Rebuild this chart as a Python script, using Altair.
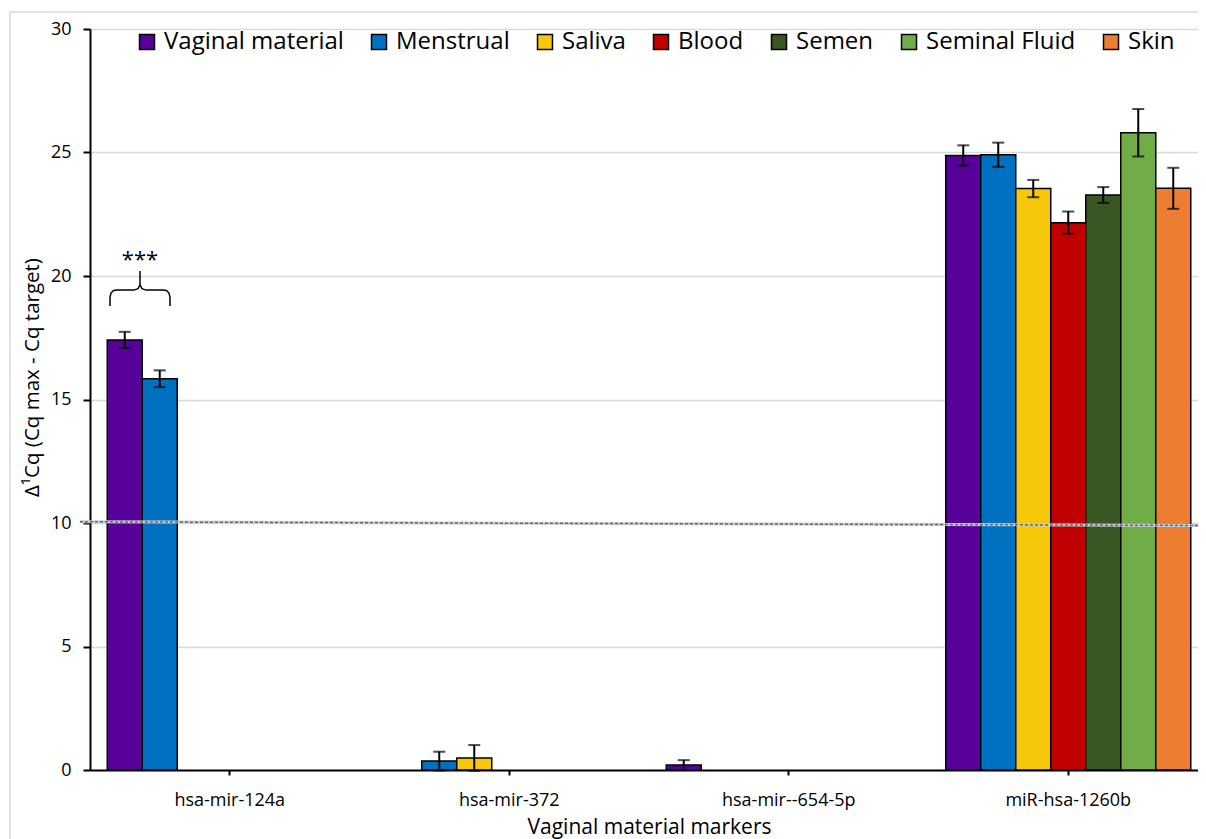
import altair as alt
import pandas as pd

# ---------------- data ----------------
categories = ["hsa-mir-124a", "hsa-mir-372", "hsa-mir--654-5p", "miR-hsa-1260b"]
series = ["Vaginal material", "Menstrual", "Saliva", "Blood", "Semen", "Seminal Fluid", "Skin"]
colors = ["#58009A", "#0070C0", "#F7C709", "#C00000", "#385723", "#70AD47", "#ED7D31"]

vaginal_mean = [17.41, 0.0, 0.20, 24.88]
vaginal_err = [0.33, 0.0, 0.20, 0.41]
menstrual_mean = [15.84, 0.36, 0.0, 24.91]
menstrual_err = [0.34, 0.38, 0.0, 0.49]
saliva_mean = [0.0, 0.49, 0.0, 23.54]
saliva_err = [0.0, 0.52, 0.0, 0.35]
blood_mean = [0.0, 0.0, 0.0, 22.16]
blood_err = [0.0, 0.0, 0.0, 0.45]
semen_mean = [0.0, 0.0, 0.0, 23.28]
semen_err = [0.0, 0.0, 0.0, 0.32]
seminal_mean = [0.0, 0.0, 0.0, 25.80]
seminal_err = [0.0, 0.0, 0.0, 0.96]
skin_mean = [0.0, 0.0, 0.0, 23.55]
skin_err = [0.0, 0.0, 0.0, 0.83]

# threshold line (in category units on x, data units on y)
threshold_x = [-0.036, 4.0]
threshold_y = [10.05, 9.90]

# significance bracket over hsa-mir-124a (category units / data units)
bracket_x = [0.0716, 0.0716, 0.0751, 0.0841, 0.0966, 0.1574, 0.1717, 0.1789, 0.1789,
             0.1789, 0.1860, 0.2004, 0.2612, 0.2737, 0.2826, 0.2862, 0.2862]
bracket_y = [18.79, 19.15, 19.31, 19.41, 19.43, 19.43, 19.49, 19.64, 20.20,
             19.64, 19.49, 19.43, 19.43, 19.41, 19.31, 19.15, 18.79]
stars_text = ["***"]
stars_x = [0.179]
stars_y = [20.36]

y_title = "Δ¹Cq (Cq max - Cq target)"
x_title = "Vaginal material markers"

# ---------------- tables ----------------
means = dict(zip(series, [vaginal_mean, menstrual_mean, saliva_mean, blood_mean,
                          semen_mean, seminal_mean, skin_mean]))
errs = dict(zip(series, [vaginal_err, menstrual_err, saliva_err, blood_err,
                         semen_err, seminal_err, skin_err]))

rows, caps = [], []
for s in series:
    for c, m, e in zip(categories, means[s], errs[s]):
        if m > 0:
            rows.append({"marker": c, "sample": s, "mean": m, "lo": m - e, "hi": m + e})
            if e > 0:
                caps.append({"marker": c, "sample": s, "v": m - e})
                caps.append({"marker": c, "sample": s, "v": m + e})
df = pd.DataFrame(rows)
df_caps = pd.DataFrame(caps)
df_thr = pd.DataFrame({"x": [threshold_x[0]], "x2": [threshold_x[1]],
                       "y": [threshold_y[0]], "y2": [threshold_y[1]]})
df_br = pd.DataFrame({"i": list(range(len(bracket_x))), "bx": bracket_x, "by": bracket_y})
df_st = pd.DataFrame({"t": stars_text, "sx": stars_x, "sy": stars_y})

FONT = "Open Sans"
RANGE_W = 1118

xscale = alt.Scale(domain=categories, range=[0, RANGE_W], paddingInner=0.1234, paddingOuter=0.0617)
xoff = alt.XOffset("sample:N", scale=alt.Scale(domain=series, paddingInner=0, paddingOuter=0))
yscale = alt.Scale(domain=[0, 30], nice=False)

xaxis = alt.Axis(title=x_title, labelAngle=0, labelFontSize=18, labelColor="black",
                 labelBaseline="alphabetic", labelPadding=30, tickSize=5, tickWidth=2,
                 tickColor="black", domainColor="black", domainWidth=2, grid=False,
                 titleFontSize=21, titleFontWeight="normal", titleColor="black",
                 titleBaseline="alphabetic", titleY=63)
yaxis = alt.Axis(title=y_title, values=[0, 5, 10, 15, 20, 25, 30], labelFontSize=18,
                 labelColor="black", labelPadding=12, tickSize=7, tickWidth=2, tickColor="black",
                 domainColor="black", domainWidth=2, grid=True, gridColor="#d9d9d9", gridWidth=1.5,
                 titleFontSize=20.5, titleFontWeight="normal", titleColor="black",
                 titleAngle=270, titleX=-58, titleY=348, titleAlign="center", titleBaseline="middle")

legend = alt.Legend(title=None, orient="none", legendX=45, legendY=1, direction="horizontal",
                    columns=7, columnPadding=23, symbolType="square", symbolSize=225,
                    symbolStrokeColor="black", symbolStrokeWidth=1.5, labelFontSize=24,
                    labelColor="black", labelOffset=5, labelFont=FONT, labelLimit=400)

bars = alt.Chart(df).mark_bar(stroke="black", strokeWidth=1.5).encode(
    x=alt.X("marker:N", sort=categories, scale=xscale, axis=xaxis),
    xOffset=xoff,
    y=alt.Y("mean:Q", scale=yscale, axis=yaxis),
    color=alt.Color("sample:N", scale=alt.Scale(domain=series, range=colors), legend=legend),
)

err_rules = alt.Chart(df).mark_rule(color="black", strokeWidth=2).encode(
    x=alt.X("marker:N", sort=categories, scale=xscale),
    xOffset=xoff,
    y=alt.Y("lo:Q", scale=yscale),
    y2="hi:Q",
)

err_caps = alt.Chart(df_caps).mark_tick(color="black", thickness=2, size=12).encode(
    x=alt.X("marker:N", sort=categories, scale=xscale),
    xOffset=xoff,
    y=alt.Y("v:Q", scale=yscale),
)

main = alt.layer(bars, err_rules, err_caps)

ascale = alt.Scale(domain=[0, 4], range=[0, RANGE_W], nice=False, zero=False)

thr_bg = alt.Chart(df_thr).mark_rule(color="#c9ced4", strokeWidth=3).encode(
    x=alt.X("x:Q", scale=ascale, axis=None), x2="x2:Q",
    y=alt.Y("y:Q", scale=yscale), y2="y2:Q")
thr_fg = alt.Chart(df_thr).mark_rule(color="#5f6873", strokeWidth=1.5, strokeDash=[3, 2]).encode(
    x=alt.X("x:Q", scale=ascale, axis=None), x2="x2:Q",
    y=alt.Y("y:Q", scale=yscale), y2="y2:Q")

bracket = alt.Chart(df_br).mark_line(color="black", strokeWidth=1.5).encode(
    x=alt.X("bx:Q", scale=ascale, axis=None),
    y=alt.Y("by:Q", scale=yscale),
    order="i:Q",
)

stars = alt.Chart(df_st).mark_text(fontSize=22, font=FONT, color="black",
                                   baseline="alphabetic", align="center").encode(
    x=alt.X("sx:Q", scale=ascale, axis=None),
    y=alt.Y("sy:Q", scale=yscale),
    text="t:N",
)

# chart-area border (only its top and left edges fall inside the picture)
frame_one = alt.Data(values=[{}])
frame_top = alt.Chart(frame_one).mark_rule(color="#d9d9d9", strokeWidth=1.5).encode(
    x=alt.value(-80), x2=alt.value(1400), y=alt.value(-17), y2=alt.value(-17))
frame_left = alt.Chart(frame_one).mark_rule(color="#d9d9d9", strokeWidth=1.5).encode(
    x=alt.value(-80), x2=alt.value(-80), y=alt.value(-17), y2=alt.value(1000))

annot = alt.layer(thr_bg, thr_fg, bracket, stars)

chart = alt.layer(main, annot, frame_top, frame_left).resolve_scale(x="independent").properties(
    width=1108, height=741,
    autosize=alt.AutoSizeParams(type="none"),
    padding={"left": 82, "top": 21, "right": 0, "bottom": 80},
).configure(font=FONT).configure_view(stroke=None)

chart.save("out.html", embed_options={"renderer": "svg", "actions": False})
